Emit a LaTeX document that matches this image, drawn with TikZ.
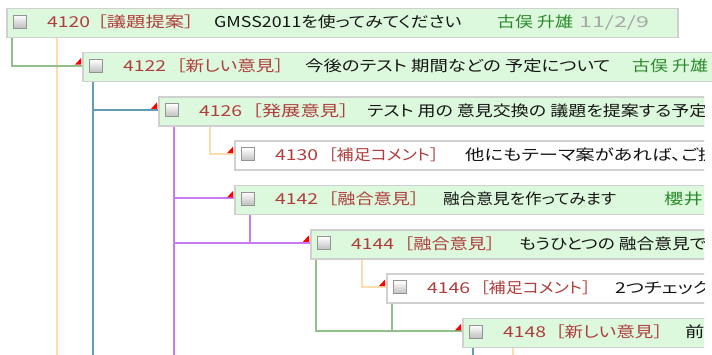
\documentclass[tikz,border=0pt]{standalone}
\usepackage{fontspec}
\usepackage{graphicx}
\setmainfont[FakeStretch=1.29,RawFeature=+palt]{Noto Sans CJK JP}
\usetikzlibrary{calc}
\definecolor{boxfill}{HTML}{DDF9DD}
\definecolor{boxline}{HTML}{D0D0D0}
\definecolor{idred}{HTML}{B03C3C}
\definecolor{authgreen}{HTML}{2A8A2A}
\definecolor{dategray}{HTML}{A8A8A8}
\definecolor{lgreen}{HTML}{92BF8C}
\definecolor{lorange}{HTML}{FFDCAE}
\definecolor{lblue}{HTML}{629DB4}
\definecolor{lpurple}{HTML}{C87AF0}
\newcommand\flagto[1]{\fill[red] ($(#1.west)+(-7,-2.5)$) -- ($(#1.west)+(-1,-2.5)$) -- ($(#1.west)+(-1,-9)$) -- cycle;}
\newcommand\sx[2]{\scalebox{#1}[1]{#2}}
\begin{document}
\begin{tikzpicture}[x=1pt,y=-1pt,
  every node/.style={font=\fontsize{15pt}{18pt}\selectfont},
  post/.style={draw=boxline, line width=1.5pt, fill=boxfill, minimum height=29pt, inner sep=0pt, anchor=north west},
  postw/.style={post, fill=white},
  cbox/.style={draw=gray!85, line width=1pt, minimum size=13pt, inner sep=0pt, top color=white, bottom color=black!25},
  txt/.style={anchor=base west, inner sep=0pt, text=black!92},
  pid/.style={txt, text=idred},
  pauth/.style={txt, text=authgreen},
  pdate/.style={txt, text=dategray},
  conn/.style={line width=2pt}]
\useasboundingbox (0,0) rectangle (712,354);
\clip (0,0) rectangle (712,354);
\fill[white] (0,0) rectangle (712,354);
\coordinate (bot) at (0,360);

% ---- post geometry
\path (6,7.5) node[post, minimum width=671pt] (b1) {};
\path (82,51.8) node[post, minimum width=700pt] (b2) {};
\begin{scope}
\clip (0,88) rectangle (704,360);
\path (158,96.1) node[post, minimum width=600pt] (b3) {};
\path (234,140.4) node[postw, minimum width=520pt] (b4) {};
\path (234,184.7) node[post, minimum width=520pt] (b5) {};
\path (310,229.0) node[post, minimum width=450pt] (b6) {};
\path (386,273.3) node[postw, minimum width=370pt] (b7) {};
\path (462,317.6) node[post, minimum width=300pt] (b8) {};
\end{scope}

% ---- connectors
\foreach \b in {b2,b3,b4,b5,b6,b7,b8}{\coordinate (e\b) at ($(\b.west)+(0,-1.5)$);}
\draw[conn, lorange] ($(b1.south west)+(51,0)$) coordinate (o1) -- (o1 |- bot);
\draw[conn, lgreen] ($(b1.south west)+(6,0)$) |- (eb2);
\draw[conn, lblue] ($(b2.south west)+(11,0)$) coordinate (o2) -- (o2 |- bot);
\draw[conn, lblue] (o2) |- (eb3);
\draw[conn, lorange] ($(b3.south west)+(52,0)$) |- (eb4);
\draw[conn, lpurple] ($(b3.south west)+(16,0)$) coordinate (o3) -- (o3 |- bot);
\draw[conn, lpurple] (o3) |- (eb5);
\draw[conn, lpurple] (o3) |- (eb6);
\draw[conn, lpurple] ($(b5.south west)+(16,0)$) |- (eb6);
\draw[conn, lorange] ($(b6.south west)+(52,0)$) |- (eb7);
\draw[conn, lgreen] ($(b6.south west)+(6,0)$) |- (eb8);
\draw[conn, lgreen] ($(b7.south west)+(6,0)$) |- (eb8);
\draw[conn, lblue] ($(b8.south west)+(11,0)$) coordinate (o8) -- (o8 |- bot);
\draw[conn, lorange] ($(b8.south west)+(51,0)$) coordinate (p8) -- (p8 |- bot);
\foreach \b in {b2,b3,b4,b5,b6,b7,b8}{\flagto{\b}}

% ---- posts on top
\node[post, minimum width=671pt] at (6,7.5) (B1) {};
\node[post, minimum width=700pt] at (82,51.8) (B2) {};
\begin{scope}
\clip (0,88) rectangle (704,360);
\node[post, minimum width=600pt] at (158,96.1) (B3) {};
\node[postw, minimum width=520pt] at (234,140.4) (B4) {};
\node[post, minimum width=520pt] at (234,184.7) (B5) {};
\node[post, minimum width=450pt] at (310,229.0) (B6) {};
\node[postw, minimum width=370pt] at (386,273.3) (B7) {};
\node[post, minimum width=300pt] at (462,317.6) (B8) {};

\node[cbox] (c3) at (172,110.1) {};
\node[cbox] (c4) at (248,154.4) {};
\node[cbox] (c5) at (248,198.7) {};
\node[cbox] (c6) at (324,243.0) {};
\node[cbox] (c7) at (400,287.3) {};
\node[cbox] (c8) at (476,331.6) {};

\node[pid] (i3) at (199,116.1) {4126};
\node[pid] (k3) at (252,116.1) {［発展意見］};
\node[txt] (t3) at (367,116.1) {\sx{0.93}{テスト 用の 意見交換の 議題を提案する予定で}};

\node[pid] (i4) at (275,160.4) {4130};
\node[pid] (k4) at (328,160.4) {\sx{0.88}{［補足コメント］}};
\node[txt] (t4) at (465,160.4) {他にもテーマ案があれば、ご提};

\node[pid] (i5) at (275,204.7) {4142};
\node[pid] (k5) at (328,204.7) {\sx{0.94}{［融合意見］}};
\node[txt] (t5) at (443,204.7) {\sx{0.86}{融合意見を作ってみます}};
\node[pauth] (a5) at (664,204.7) {櫻井};

\node[pid] (i6) at (351,249.0) {4144};
\node[pid] (k6) at (404,249.0) {\sx{0.94}{［融合意見］}};
\node[txt] (t6) at (519,249.0) {\sx{0.915}{もうひとつの 融合意見で}};

\node[pid] (i7) at (427,293.3) {4146};
\node[pid] (k7) at (480,293.3) {\sx{0.88}{［補足コメント］}};
\node[txt] (t7) at (615,293.3) {2つチェック};

\node[pid] (i8) at (503,337.6) {4148};
\node[pid] (k8) at (555,337.6) {\sx{0.96}{［新しい意見］}};
\node[txt] (t8) at (685,337.6) {前};
\end{scope}

\node[cbox] (c1) at (20,21.5) {};
\node[cbox] (c2) at (96,65.8) {};

\node[pid] (i1) at (47,27.5) {4120};
\node[pid] (k1) at (97,27.5) {［議題提案］};
\node[txt] (t1) at (214,27.5) {\sx{0.92}{GMSS2011を使ってみてください}};
\node[pauth] (a1) at (497,27.5) {\sx{0.93}{古俣 升雄}};
\node[pdate] (d1) at (579,27.5) {\sx{1.2}{11/2/9}};

\node[pid] (i2) at (123,71.8) {4122};
\node[pid] (k2) at (176,71.8) {\sx{0.96}{［新しい意見］}};
\node[txt] (t2) at (305,71.8) {\sx{0.95}{今後のテスト 期間などの 予定について}};
\node[pauth] (a2) at (632,71.8) {\sx{0.93}{古俣 升雄}};
\end{tikzpicture}
\end{document}
